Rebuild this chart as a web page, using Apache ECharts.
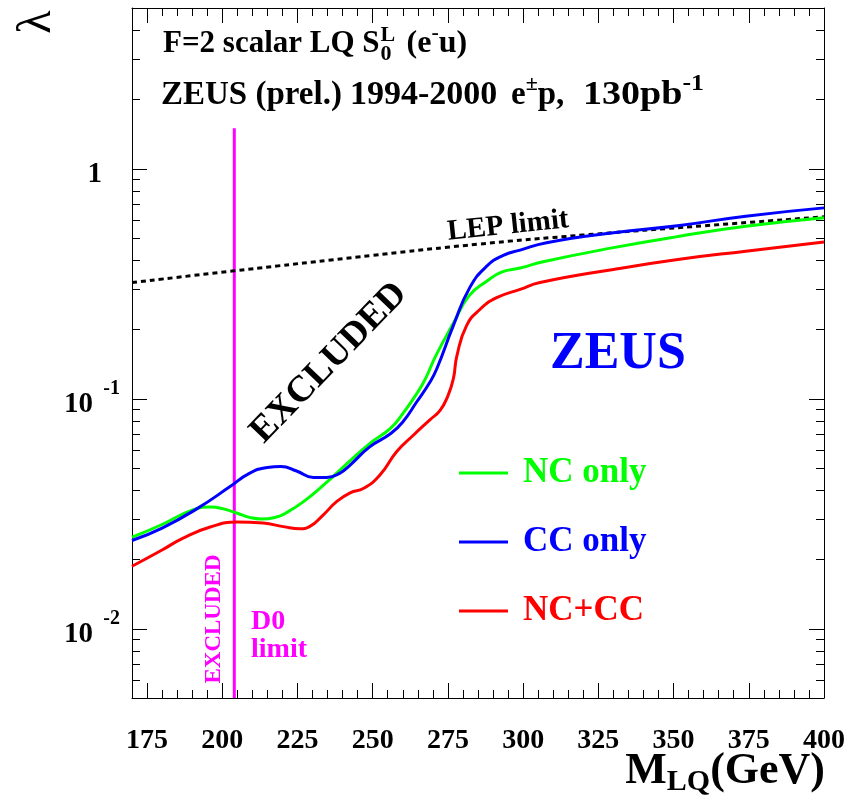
<!DOCTYPE html>
<html>
<head>
<meta charset="utf-8">
<script src="https://cdn.jsdelivr.net/npm/echarts@6/dist/echarts.min.js"></script>
<style>
html,body{margin:0;padding:0;background:#ffffff;}
#chart{width:848px;height:799px;}
</style>
</head>
<body>
<div id="chart"></div>
<script>
// ---------------- data ----------------
const xTickLabels = [175, 200, 225, 250, 275, 300, 325, 350, 375, 400];
const yTickLabels = [1, 0.1, 0.01];

const massNC   = [170, 180, 190, 196, 200, 205, 209, 213, 218, 221, 227, 234, 242, 249, 256, 260, 265, 267.5, 271, 277, 282, 288, 293, 299, 307, 330, 352, 374, 400];
const lambdaNC = [0.0250, 0.0284, 0.0328, 0.0338, 0.0333, 0.0318, 0.0305, 0.0300, 0.0306, 0.0318, 0.0357, 0.0425, 0.0530, 0.0638, 0.0745, 0.0861, 0.107, 0.122, 0.154, 0.215, 0.280, 0.325, 0.356, 0.370, 0.395, 0.454, 0.509, 0.562, 0.612];

const massCC   = [170, 180, 191.5, 202.6, 209, 215, 219.5, 224.7, 230.3, 234.7, 239, 242.5, 249, 256, 260, 264.6, 269, 271.3, 276.8, 282.3, 288, 293.4, 299, 307.8, 330, 352, 374, 400];
const lambdaCC = [0.0242, 0.0274, 0.0332, 0.0415, 0.0474, 0.0503, 0.0508, 0.0485, 0.0455, 0.0455, 0.0474, 0.0515, 0.0618, 0.0706, 0.0793, 0.0968, 0.118, 0.135, 0.208, 0.305, 0.378, 0.420, 0.443, 0.477, 0.527, 0.567, 0.622, 0.676];

const massNCCC   = [170, 180, 187, 196, 204.8, 213.6, 220.3, 225.8, 229, 233.6, 238, 242.5, 247, 252.4, 258, 263.5, 269, 272.4, 275, 276.8, 278, 281.2, 285.7, 291.2, 299, 305.6, 330, 352, 374, 400];
const lambdaNCCC = [0.0187, 0.0220, 0.0248, 0.0277, 0.0291, 0.0288, 0.0278, 0.0272, 0.0278, 0.0313, 0.0357, 0.0390, 0.0408, 0.0466, 0.0590, 0.0694, 0.0810, 0.0890, 0.103, 0.122, 0.154, 0.208, 0.245, 0.275, 0.299, 0.320, 0.365, 0.404, 0.438, 0.480];

const massLEP   = [170, 204, 250, 285, 320, 360, 400];
const lambdaLEP = [0.320, 0.360, 0.420, 0.470, 0.515, 0.565, 0.618];

const massD0   = [204, 204];
const lambdaD0 = [0.005, 1.5];

const xMin = 170, xMax = 400;
const yMin = 0.005, yMax = 5;

// ---------------- helpers ----------------
const FONT = "'Liberation Serif','Times New Roman',serif";
const L10 = v => Math.log10(v);
const pairs = (xs, ys) => xs.map((x, i) => [x, L10(ys[i])]);

const xMajor = xTickLabels.slice();
const xMinor = [];
for (let m = xMin; m <= xMax; m += 5) if (xMajor.indexOf(m) < 0) xMinor.push(m);
const yMajor = yTickLabels.map(L10);
const yMinor = [];
for (let e = -3; e <= 0; e++) {
  for (let k = 2; k <= 9; k++) {
    const v = k * Math.pow(10, e);
    if (v >= yMin && v <= yMax) yMinor.push(L10(v));
  }
}

const chart = echarts.init(document.getElementById('chart'), null, {renderer: 'canvas'});

const mctx = document.createElement('canvas').getContext('2d');
function textW(str, size) {
  mctx.font = 'bold ' + size + 'px ' + FONT;
  return mctx.measureText(str).width;
}

function xAxisDef(pos, ticks, len, withLine, withLabels) {
  return {
    type: 'value', min: xMin, max: xMax, position: pos,
    axisLine: {show: withLine, onZero: false, lineStyle: {color: '#000', width: 1}},
    axisTick: {show: true, inside: true, length: len, customValues: ticks, lineStyle: {color: '#000', width: 1}},
    axisLabel: withLabels ? {
      show: true, customValues: ticks, margin: 29,
      fontFamily: FONT, fontWeight: 'bold', fontSize: 28, color: '#000'
    } : {show: false},
    splitLine: {show: false}
  };
}
function yAxisDef(pos, ticks, len, withLine, withLabels) {
  return {
    type: 'value', min: L10(yMin), max: L10(yMax), position: pos,
    axisLine: {show: withLine, onZero: false, lineStyle: {color: '#000', width: 1}},
    axisTick: {show: true, inside: true, length: len, customValues: ticks, lineStyle: {color: '#000', width: 1}},
    axisLabel: withLabels ? {
      show: true, customValues: ticks, margin: 12,
      formatter: function (v) {
        const e = Math.round(v);
        if (e === 0) return '{n|1}{z| }';
        return '{n|10}{s|' + e + '}';
      },
      rich: {
        n: {fontFamily: FONT, fontWeight: 'bold', fontSize: 29, color: '#000', lineHeight: 40, verticalAlign: 'bottom'},
        s: {fontFamily: FONT, fontWeight: 'bold', fontSize: 20, color: '#000', lineHeight: 20, verticalAlign: 'top', width: 18, padding: [0, 0, 0, 9]},
        z: {fontFamily: FONT, fontWeight: 'bold', fontSize: 20, color: '#000', lineHeight: 20, verticalAlign: 'top', width: 18}
      }
    } : {show: false},
    splitLine: {show: false}
  };
}

const mainRich = (size) => ({
  m: {fontFamily: FONT, fontWeight: 'bold', fontSize: size, color: '#000', lineHeight: 44, verticalAlign: 'middle'},
  sp: {fontFamily: FONT, fontWeight: 'bold', fontSize: Math.round(size * 0.68), color: '#000', lineHeight: 22, verticalAlign: 'top'}
});

function titleText(x, y, str, size, sx) {
  return {type: 'text', x: x, y: y, scaleX: sx || 1,
    style: {text: str, align: 'left', verticalAlign: 'middle', rich: mainRich(size)}};
}
function plainText(x, y, str, size, color, extra) {
  return Object.assign({type: 'text', x: x, y: y,
    style: {text: str, fontFamily: FONT, fontWeight: 'bold', fontSize: size, fill: color || '#000', align: 'left', verticalAlign: 'middle'}}, extra || {});
}

const t1x = 163;
const sEnd = t1x + textW('F=2 scalar LQ S', 31) + 1;

const option = {
  animation: false,
  backgroundColor: '#ffffff',
  grid: {left: 132, right: 24, top: 8, height: 690, containLabel: false},
  xAxis: [
    xAxisDef('bottom', xMajor, 15, true, true),
    xAxisDef('bottom', xMinor, 8, false, false),
    xAxisDef('top', xMajor, 15, true, false),
    xAxisDef('top', xMinor, 8, false, false)
  ],
  yAxis: [
    yAxisDef('left', yMajor, 15, true, true),
    yAxisDef('left', yMinor, 8, false, false),
    yAxisDef('right', yMajor, 15, true, false),
    yAxisDef('right', yMinor, 8, false, false)
  ],
  legend: {
    show: true, orient: 'vertical', left: 454, top: 448,
    itemWidth: 49, itemHeight: 3, itemGap: 29, icon: 'rect',
    selectedMode: false,
    textStyle: {fontFamily: FONT, fontWeight: 'bold', fontSize: 35, lineHeight: 40, padding: [0, 0, 0, 10]},
    data: [
      {name: 'NC only', textStyle: {color: '#00ff00'}},
      {name: 'CC only', textStyle: {color: '#0000ff'}},
      {name: 'NC+CC', textStyle: {color: '#ff0000'}}
    ]
  },
  series: [
    {
      name: 'D0 limit', type: 'line', data: pairs(massD0, lambdaD0),
      showSymbol: false, symbol: 'none', lineStyle: {color: '#ff00ff', width: 3}, itemStyle: {color: '#ff00ff'}, z: 3
    },
    {
      name: 'LEP limit', type: 'line', data: pairs(massLEP, lambdaLEP), smooth: true,
      showSymbol: false, symbol: 'none', lineStyle: {color: '#000', width: 3, type: [5, 4]}, itemStyle: {color: '#000'}, z: 4
    },
    {
      name: 'NC only', type: 'line', data: pairs(massNC, lambdaNC), smooth: true,
      showSymbol: false, symbol: 'none', lineStyle: {color: '#00ff00', width: 3}, itemStyle: {color: '#00ff00'}, z: 5
    },
    {
      name: 'CC only', type: 'line', data: pairs(massCC, lambdaCC), smooth: true,
      showSymbol: false, symbol: 'none', lineStyle: {color: '#0000ff', width: 3}, itemStyle: {color: '#0000ff'}, z: 6
    },
    {
      name: 'NC+CC', type: 'line', data: pairs(massNCCC, lambdaNCCC), smooth: true,
      showSymbol: false, symbol: 'none', lineStyle: {color: '#ff0000', width: 3}, itemStyle: {color: '#ff0000'}, z: 5
    }
  ],
  graphic: [
    // y axis title (lambda, rotated)
    {type: 'text', x: 37, y: 22, rotation: Math.PI / 2,
      style: {text: 'λ', fontFamily: FONT, fontSize: 48, fontWeight: 'normal', fill: '#000', align: 'center', verticalAlign: 'middle'}},
    // x axis title
    {type: 'text', x: 825, y: 772,
      style: {text: '{m|M}{sb|LQ}{m|(GeV)}', align: 'right', verticalAlign: 'middle',
        rich: {
          m: {fontFamily: FONT, fontWeight: 'bold', fontSize: 44, color: '#000', lineHeight: 50, verticalAlign: 'middle'},
          sb: {fontFamily: FONT, fontWeight: 'bold', fontSize: 30, color: '#000', lineHeight: 30, verticalAlign: 'bottom'}
        }}},
    // title line 1
    titleText(t1x, 44, '{m|F=2 scalar LQ S}', 31),
    plainText(sEnd, 54, '0', 22),
    plainText(sEnd, 35, 'L', 22),
    titleText(sEnd + 26, 44, '{m|(e}{sp|-}{m|u)}', 32),
    // title line 2
    titleText(161, 95, '{m|ZEUS (prel.)}', 33),
    titleText(350, 95, '{m|1994-2000}', 34),
    titleText(511, 95, '{m|e}{sp|±}{m|p,}', 33),
    titleText(583, 95, '{m|130pb}{sp|-1}', 34, 1.12),
    // LEP limit label
    {type: 'text', x: 508, y: 226, rotation: 6 * Math.PI / 180,
      style: {text: 'LEP limit', fontFamily: FONT, fontWeight: 'bold', fontSize: 29, fill: '#000', align: 'center', verticalAlign: 'middle'}},
    // EXCLUDED (big, diagonal)
    {type: 'text', x: 329, y: 363, rotation: 46 * Math.PI / 180,
      style: {text: 'EXCLUDED', fontFamily: FONT, fontWeight: 'bold', fontSize: 37, fill: '#000', align: 'center', verticalAlign: 'middle'}},
    // ZEUS
    plainText(550, 355, 'ZEUS', 52, '#0000ff'),
    // D0 annotations
    {type: 'text', x: 214, y: 619, rotation: Math.PI / 2,
      style: {text: 'EXCLUDED', fontFamily: FONT, fontWeight: 'bold', fontSize: 23, fill: '#ff00ff', align: 'center', verticalAlign: 'middle'}},
    plainText(251, 622, 'D0', 28, '#ff00ff'),
    plainText(251, 650, 'limit', 28, '#ff00ff')
  ]
};

chart.setOption(option);
</script>
</body>
</html>
